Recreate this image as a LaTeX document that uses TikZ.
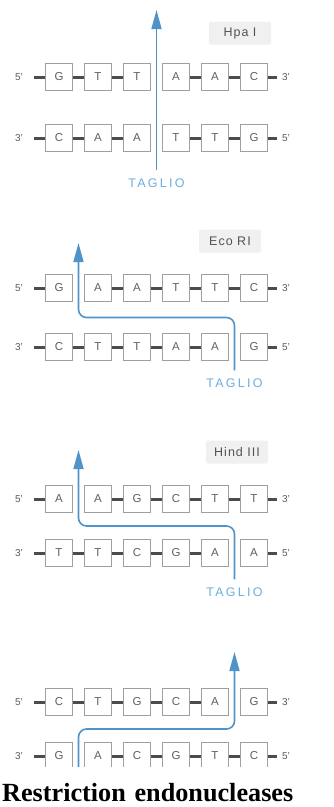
\documentclass[tikz,border=0pt]{standalone}
\usepackage{fontspec}
\setmainfont{Liberation Serif}
\setsansfont{Liberation Sans}
\usetikzlibrary{arrows.meta,calc}

\definecolor{cutblue}{HTML}{4F93C9}
\definecolor{tagblue}{HTML}{6AAEDD}

% one strand: name, y, bases, left end, right end, no bond after base #6
\newcommand{\strand}[6]{%
  \node[ends] (#1L) at (19,#2) {#4};
  \foreach \b [count=\i] in {#3} {
    \node[nt] (#1\i) at ({20+39*\i},#2) {\b};
  }
  \node[ends] (#1R) at (286,#2) {#5};
  \draw[bond, shorten <=10pt] (#1L) -- (#11);
  \draw[bond, shorten >=4pt] (#16) -- (#1R);
  \foreach \i in {1,...,5} {
    \pgfmathtruncatemacro\j{\i+1}
    \ifnum\i=#6 \else \draw[bond] (#1\i) -- (#1\j); \fi
  }
}

\begin{document}
\begin{tikzpicture}[
  x=1pt, y=-1pt, font=\sffamily,
  nt/.style={draw=gray!75, line width=0.8pt, fill=white,
             minimum size=27pt, inner sep=0pt,
             text=gray!75!black, font=\sffamily\fontsize{11.5}{11.5}\selectfont},
  ends/.style={inner sep=1pt, text=gray!70!black,
               font=\sffamily\fontsize{10}{10}\selectfont},
  bond/.style={line width=3pt, draw=black!70},
  enz/.style={fill=gray!12, rounded corners=2pt, minimum width=62pt,
              minimum height=23pt, text=gray!65!black,
              font=\sffamily\fontsize{12.5}{12.5}\selectfont\addfontfeatures{LetterSpace=8}},
  taglbl/.style={text=tagblue, inner sep=2pt,
                 font=\sffamily\fontsize{12.5}{12.5}\selectfont\addfontfeatures{LetterSpace=18}},
  cutarr/.style={draw=cutblue, line width=1.6pt, rounded corners=8pt,
                 -{Triangle[length=19pt,width=10pt]}},
]
  \useasboundingbox (0,0) rectangle (334,807);

  % Hpa I
  \node[enz] (hpa) at (240,33) {Hpa I};
  \strand{hpaT}{77}{G,T,T,A,A,C}{5'}{3'}{3}
  \strand{hpaB}{138}{C,A,A,T,T,G}{3'}{5'}{3}
  \node[taglbl] (hpaTag) at ($(hpaB3.east)!0.5!(hpaB4.west)+(0,45)$) {TAGLIO};
  \coordinate (hpaTip) at ($(hpaT3.east)!0.5!(hpaT4.west)+(0,-67)$);
  \draw[cutarr, shorten <=6pt] (hpaTag) -- (hpaTip);

  % Eco RI
  \node[enz] (eco) at (230,241) {Eco RI};
  \strand{ecoT}{288}{G,A,A,T,T,C}{5'}{3'}{1}
  \strand{ecoB}{347}{C,T,T,A,A,G}{3'}{5'}{5}
  \node[taglbl] (ecoTag) at ($(ecoB5.east)!0.5!(ecoB6.west)+(0,36)$) {TAGLIO};
  \coordinate (ecoMid) at ($(ecoT1.south)!0.5!(ecoB1.north)$);
  \coordinate (ecoTip) at ($(ecoT1.east)!0.5!(ecoT2.west)+(0,-45)$);
  \draw[cutarr, shorten <=6pt] (ecoTag) |- (ecoTip |- ecoMid) -- (ecoTip);

  % Hind III
  \node[enz] (hind) at (237,452) {Hind III};
  \strand{hindT}{499}{A,A,G,C,T,T}{5'}{3'}{1}
  \strand{hindB}{553}{T,T,C,G,A,A}{3'}{5'}{5}
  \node[taglbl] (hindTag) at ($(hindB5.east)!0.5!(hindB6.west)+(0,39)$) {TAGLIO};
  \coordinate (hindMid) at ($(hindT1.south)!0.5!(hindB1.north)$);
  \coordinate (hindTip) at ($(hindT1.east)!0.5!(hindT2.west)+(0,-49)$);
  \draw[cutarr, shorten <=6pt] (hindTag) |- (hindTip |- hindMid) -- (hindTip);

  % last pair
  \strand{pstT}{702}{C,T,G,C,A,G}{5'}{3'}{5}
  \strand{pstB}{756}{G,A,C,G,T,C}{3'}{5'}{1}
  \coordinate (pstStart) at ($(pstB1.east)!0.5!(pstB2.west)+(0,20)$);
  \coordinate (pstMid) at ($(pstT1.south)!0.5!(pstB1.north)$);
  \coordinate (pstTip) at ($(pstT5.east)!0.5!(pstT6.west)+(0,-50)$);
  \draw[cutarr] (pstStart) |- (pstTip |- pstMid) -- (pstTip);

  \node[anchor=base west, fill=white, text width=330pt, inner sep=1pt,
        text height=33pt, text depth=5pt,
        font=\rmfamily\bfseries\fontsize{26.2}{26.2}\selectfont]
        (caption) at (1,801) {Restriction endonucleases};
\end{tikzpicture}
\end{document}
